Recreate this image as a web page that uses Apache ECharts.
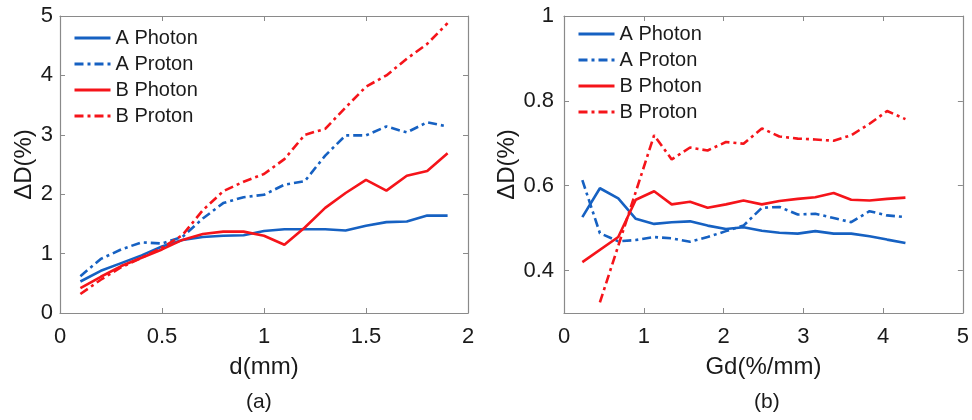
<!DOCTYPE html>
<html>
<head>
<meta charset="utf-8">
<script src="https://cdn.jsdelivr.net/npm/echarts@6/dist/echarts.min.js"></script>
<style>
html,body{margin:0;padding:0;background:#fff;}
#c{width:972px;height:420px;}
</style>
</head>
<body>
<div id="c"></div>
<script>
// ---- Data (a) ----
var dVals = [0.1,0.2,0.3,0.4,0.5,0.6,0.7,0.8,0.9,1.0,1.1,1.2,1.3,1.4,1.5,1.6,1.7,1.8,1.9];
var aPhotonA = [0.53,0.71,0.84,0.97,1.12,1.23,1.28,1.30,1.31,1.38,1.41,1.41,1.41,1.39,1.47,1.53,1.54,1.64,1.64];
var aProtonA = [0.62,0.91,1.07,1.19,1.17,1.28,1.59,1.85,1.95,1.99,2.16,2.22,2.65,2.99,2.99,3.14,3.04,3.21,3.14];
var bPhotonA = [0.42,0.61,0.79,0.93,1.07,1.23,1.33,1.37,1.37,1.30,1.15,1.44,1.77,2.02,2.24,2.06,2.31,2.39,2.69];
var bProtonA = [0.32,0.56,0.77,0.93,1.10,1.31,1.73,2.05,2.21,2.34,2.59,3.00,3.10,3.46,3.81,4.00,4.28,4.53,4.88];
// ---- Data (b) ----
var gdVals = [0.23,0.45,0.68,0.90,1.13,1.35,1.58,1.80,2.03,2.25,2.48,2.70,2.93,3.15,3.38,3.60,3.83,4.05,4.28];
var aPhotonB = [0.526,0.594,0.570,0.522,0.510,0.514,0.516,0.506,0.498,0.502,0.494,0.489,0.487,0.493,0.487,0.487,0.481,0.473,0.465];
var aProtonB = [0.613,0.488,0.469,0.472,0.479,0.476,0.468,0.479,0.493,0.506,0.548,0.550,0.532,0.534,0.524,0.514,0.540,0.530,0.526];
var bPhotonB = [0.420,null,0.479,0.567,0.587,0.556,0.562,0.548,0.556,0.565,0.556,0.564,0.569,0.573,0.583,0.567,0.565,0.569,0.572];
var bProtonB = [null,0.325,null,null,0.719,0.662,0.690,0.683,0.703,0.699,0.735,0.716,0.711,0.709,0.706,0.719,0.746,0.776,0.757];
// ---- Ticks ----
var xTicksA = [0,0.5,1,1.5,2];
var yTicksA = [0,1,2,3,4,5];
var xTicksB = [0,1,2,3,4,5];
var yTicksB = [0.4,0.6,0.8,1];
var seriesNames = ['A Photon','A Proton','B Photon','B Proton'];

var BLUE = '#1661c2', RED = '#f5141a', AX = '#8a8a8a', TXT = '#1a1a1a';
var FONT = 'Liberation Sans, Arial, sans-serif';
var dashDot = [9,4,3,4];

function pairs(xs, ys){
  var out = [];
  for (var i=0;i<xs.length;i++){ if (ys[i] !== null && ys[i] !== undefined) out.push([xs[i], ys[i]]); }
  return out;
}
function styleFor(name){
  var blue = name.charAt(0) === 'A';
  var dashed = name.indexOf('Proton') >= 0;
  return {color: blue ? BLUE : RED, width: 2.6, type: dashed ? dashDot : 'solid'};
}
function mkSeries(name, xi, yi, data){
  var ls = styleFor(name);
  return {name:name, type:'line', xAxisIndex:xi, yAxisIndex:yi, data:data, symbol:'none',
    showSymbol:false, connectNulls:true, lineStyle:ls, itemStyle:{color:ls.color}, animation:false, z:3};
}
function xAx(grid, ticks, pos, show){
  return {type:'value', gridIndex:grid, position:pos, min:ticks[0], max:ticks[ticks.length-1],
    interval:ticks[1]-ticks[0],
    axisLine:{show:true, onZero:false, lineStyle:{color:AX, width:1.2}},
    axisTick:{show:true, inside:true, length:5, lineStyle:{color:AX}},
    splitLine:{show:false},
    axisLabel:{show:show, color:TXT, fontSize:22, fontFamily:FONT, margin:13},
    name: show ? (grid===0 ? 'd(mm)' : 'Gd(%/mm)') : '',
    nameLocation:'middle', nameGap:42,
    nameTextStyle:{color:TXT, fontSize:24, fontFamily:FONT}
  };
}
function yAx(grid, min, max, ticks, pos, show, gap){
  var o = {type:'value', gridIndex:grid, position:pos, min:min, max:max,
    axisLine:{show:true, onZero:false, lineStyle:{color:AX, width:1.2}},
    axisTick:{show:true, inside:true, length:5, lineStyle:{color:AX}, customValues:ticks},
    splitLine:{show:false},
    axisLabel:{show:show, color:TXT, fontSize:22, fontFamily:FONT, margin:grid===0?7:10, customValues:ticks,
      formatter:function(v){ return String(+v.toFixed(2)); }},
    name: show ? 'ΔD(%)' : '', nameLocation:'middle', nameGap:gap||20, nameRotate:90,
    nameTextStyle:{color:TXT, fontSize:24, fontFamily:FONT}
  };
  return o;
}

var chart = echarts.init(document.getElementById('c'), null, {renderer:'canvas'});
var series = [
  mkSeries('A Photon',0,0,pairs(dVals,aPhotonA)),
  mkSeries('A Proton',0,0,pairs(dVals,aProtonA)),
  mkSeries('B Photon',0,0,pairs(dVals,bPhotonA)),
  mkSeries('B Proton',0,0,pairs(dVals,bProtonA)),
  mkSeries('A Photon',2,2,pairs(gdVals,aPhotonB)),
  mkSeries('A Proton',2,2,pairs(gdVals,aProtonB)),
  mkSeries('B Photon',2,2,pairs(gdVals,bPhotonB)),
  mkSeries('B Proton',2,2,pairs(gdVals,bProtonB))
];
function legendAt(left, top){
  return {show:true, orient:'vertical', left:left, top:top, itemWidth:36, itemHeight:14, itemGap:6,
    padding:0, itemStyle:{opacity:0, borderWidth:0}, lineStyle:{width:3},
    textStyle:{color:TXT, fontSize:20, fontFamily:FONT},
    data:seriesNames.slice()};
}
chart.setOption({
  backgroundColor:'#fff',
  animation:false,
  grid:[
    {left:60, top:16, width:408, height:297},
    {left:564, top:16, width:403, height:297}
  ],
  xAxis:[
    xAx(0, xTicksA, 'bottom', true),
    xAx(0, xTicksA, 'top', false),
    xAx(1, xTicksB, 'bottom', true),
    xAx(1, xTicksB, 'top', false)
  ],
  yAxis:[
    yAx(0, 0, 5, yTicksA, 'left', true, 18),
    yAx(0, 0, 5, yTicksA, 'right', false),
    yAx(1, 0.3, 1, yTicksB, 'left', true, 37),
    yAx(1, 0.3, 1, yTicksB, 'right', false)
  ],
  legend:[legendAt(73, 28), legendAt(577, 24)],
  series: series,
  graphic:[
    {type:'text', left:246, top:392, style:{text:'(a)', fill:TXT, font:'21px Liberation Sans, Arial, sans-serif'}},
    {type:'text', left:754, top:392, style:{text:'(b)', fill:TXT, font:'21px Liberation Sans, Arial, sans-serif'}}
  ]
});
</script>
</body>
</html>
